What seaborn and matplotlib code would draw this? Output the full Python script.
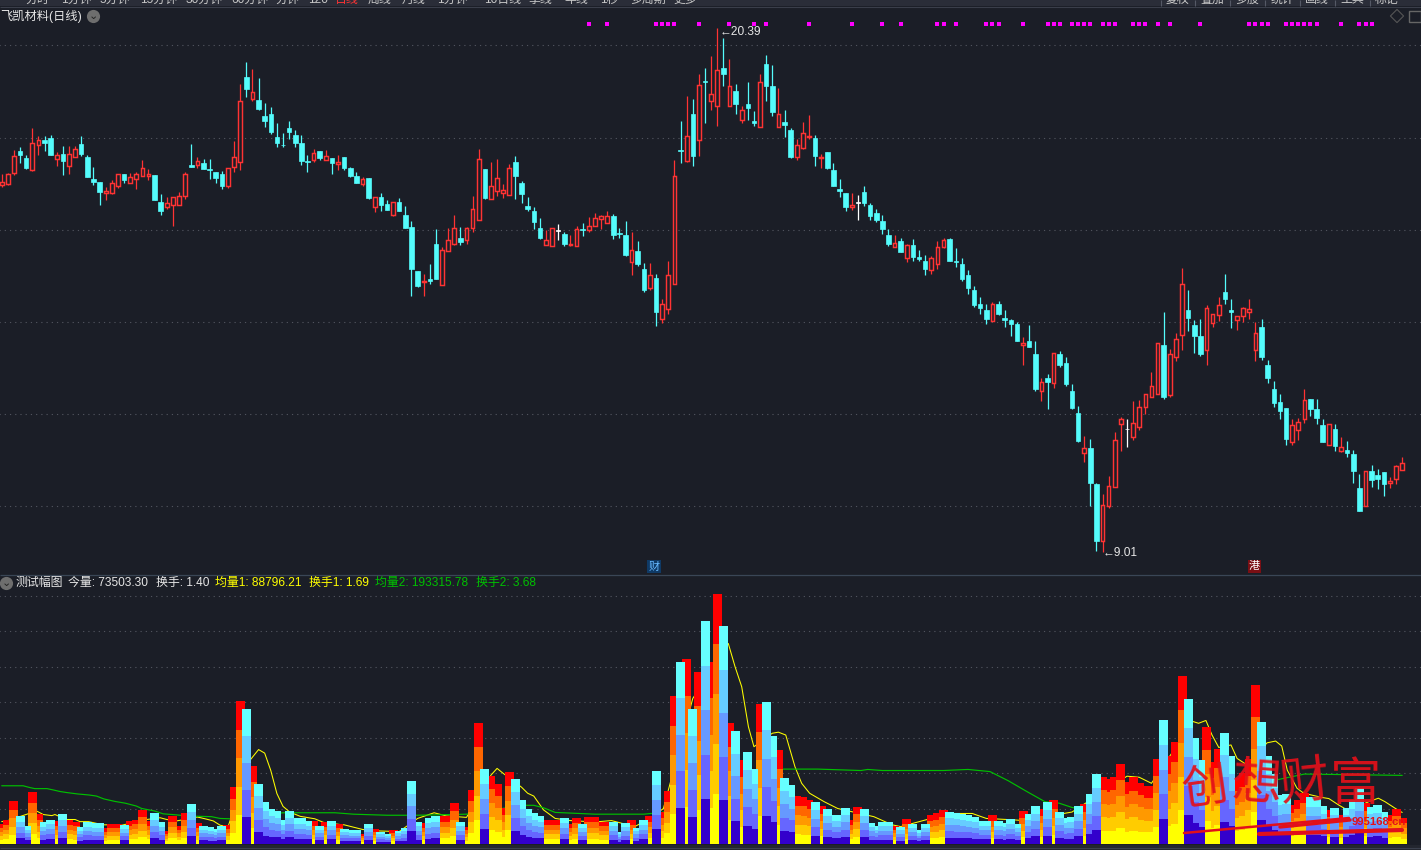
import matplotlib
matplotlib.use("Agg")
import matplotlib.pyplot as plt
from matplotlib.patches import Rectangle
import numpy as np
import seaborn as sns

# daily prices
highs = [
    17.20,17.24,17.73,17.79,17.62,18.20,18.03,18.03,18.05,17.69,
    17.81,17.81,17.82,18.03,17.62,17.36,17.03,16.93,17.07,17.20,
    17.20,17.24,17.25,17.51,17.31,17.18,16.78,16.70,16.71,16.81,
    17.26,17.86,17.57,17.54,17.54,17.26,17.28,17.33,17.92,19.17,
    19.64,19.48,19.30,18.75,18.66,18.31,18.09,18.35,18.17,18.05,
    17.62,17.76,17.70,17.74,17.55,17.62,17.57,17.36,17.25,17.14,
    17.12,16.71,16.79,16.64,16.60,16.68,16.51,16.18,15.10,15.03,
    15.25,16.01,15.62,16.03,16.31,16.05,16.05,16.73,17.76,17.31,
    17.46,17.53,16.99,17.42,17.60,17.05,16.70,16.49,16.25,16.00,
    16.04,16.12,15.96,15.88,16.07,16.14,16.27,16.36,16.31,16.40,
    16.35,16.03,16.18,15.96,15.75,15.27,15.27,15.04,14.50,15.33,
    17.52,18.36,18.90,18.83,19.38,19.51,19.77,20.39,20.16,19.70,
    19.16,18.68,19.20,18.57,19.38,19.79,19.57,19.07,18.60,18.20,
    17.96,18.33,18.49,18.05,17.64,17.68,17.44,17.10,16.79,16.79,
    16.75,16.94,16.57,16.46,16.33,16.01,15.88,15.83,15.70,15.79,
    15.57,15.46,15.42,15.75,15.83,15.83,15.60,15.38,15.12,14.77,
    14.53,14.38,14.42,14.46,14.25,14.07,13.99,13.68,13.92,13.59,
    12.79,12.86,13.33,13.36,13.23,12.66,12.18,11.53,11.46,10.49,
    10.25,10.66,11.60,11.94,11.88,12.29,12.31,12.44,12.90,13.53,
    14.22,13.40,13.75,15.16,14.70,14.03,14.05,14.36,14.16,14.53,
    15.03,14.49,14.12,14.33,14.49,13.99,14.07,13.18,12.72,12.44,
    12.12,11.90,11.92,12.55,12.33,12.33,11.88,11.79,11.77,11.49,
    11.42,11.22,10.70,10.77,10.88,10.81,10.73,10.64,10.90,11.07,
]
lows = [
    16.93,16.98,17.19,17.44,17.31,17.28,17.62,17.71,17.62,17.38,
    17.18,17.22,17.58,17.60,17.15,16.96,16.54,16.64,16.78,16.91,
    17.01,17.02,16.88,17.17,17.07,16.64,16.31,16.44,16.07,16.54,
    16.66,17.36,17.33,17.31,17.11,17.02,16.88,16.90,17.26,17.29,
    18.88,18.79,18.60,18.22,18.07,17.80,17.80,17.96,17.80,17.40,
    17.25,17.47,17.51,17.51,17.20,17.29,17.29,17.15,17.01,16.94,
    16.66,16.38,16.40,16.42,16.29,16.40,16.03,14.57,14.75,14.57,
    14.81,14.92,14.79,15.54,15.66,15.66,15.70,15.96,16.20,16.66,
    16.66,16.73,16.68,16.75,16.66,16.57,16.40,16.01,15.79,15.66,
    15.64,15.77,15.64,15.64,15.64,15.86,15.94,16.07,16.01,16.14,
    15.79,15.81,15.42,15.01,15.22,14.64,14.68,13.90,13.97,14.18,
    14.81,17.44,17.46,17.38,17.60,18.31,18.60,18.25,19.12,18.69,
    18.51,18.31,18.38,18.25,18.23,18.79,18.46,18.23,18.01,17.55,
    17.51,17.75,17.96,17.38,17.33,17.31,16.94,16.70,16.40,16.42,
    16.20,16.51,16.20,16.16,15.90,15.64,15.62,15.51,15.29,15.33,
    15.31,15.01,15.03,15.14,15.60,15.33,15.18,14.88,14.60,14.33,
    14.16,13.96,14.02,14.14,13.88,13.70,13.59,13.07,13.46,12.49,
    12.29,12.10,12.57,13.01,12.60,12.10,11.40,10.96,10.01,9.03,
    9.01,9.96,10.42,11.20,11.29,11.44,11.66,11.99,12.36,12.43,
    12.33,12.36,13.14,13.38,13.81,13.33,13.25,13.07,13.88,14.01,
    14.38,13.86,13.83,13.99,14.05,13.14,13.18,12.68,12.16,11.88,
    11.33,11.33,11.44,11.81,11.96,11.79,11.38,11.33,11.20,11.18,
    11.07,10.49,9.90,9.99,10.42,10.38,10.22,10.40,10.47,10.78,
]
opens = [
    16.98,17.00,17.24,17.70,17.55,17.29,17.83,17.94,17.99,17.54,
    17.64,17.38,17.58,17.86,17.57,17.10,17.03,16.79,16.80,16.95,
    17.20,17.02,17.10,17.17,17.17,17.18,16.61,16.49,16.54,16.54,
    16.73,17.40,17.40,17.44,17.31,17.26,17.20,16.95,17.36,17.47,
    19.31,18.84,18.81,18.46,18.51,18.01,17.85,18.20,18.05,17.88,
    17.49,17.51,17.70,17.51,17.55,17.42,17.57,17.33,17.16,16.99,
    17.12,16.49,16.70,16.55,16.31,16.60,16.33,16.05,15.10,14.86,
    14.94,15.70,14.79,15.54,15.68,15.83,15.77,16.04,16.20,17.31,
    16.66,16.83,16.79,16.75,17.46,17.01,16.51,16.40,16.03,15.66,
    15.64,15.98,15.90,15.66,15.64,16.01,15.99,16.07,16.24,16.14,
    16.29,15.92,15.88,15.29,15.53,15.14,14.73,14.96,14.06,14.28,
    14.83,17.74,17.49,18.51,17.95,19.22,18.80,18.69,19.51,18.69,
    19.01,18.38,18.72,18.36,18.23,19.60,19.12,18.23,18.33,18.16,
    17.57,17.77,18.01,17.99,17.56,17.68,17.29,16.88,16.79,16.49,
    16.59,16.81,16.53,16.36,16.18,15.88,15.62,15.75,15.39,15.66,
    15.40,15.31,15.12,15.25,15.62,15.79,15.33,15.25,15.01,14.70,
    14.38,14.25,14.02,14.38,14.09,14.03,13.96,13.49,13.59,13.31,
    12.49,12.79,12.68,13.29,13.10,12.49,12.01,11.16,11.25,10.47,
    9.25,10.01,10.42,11.77,11.67,11.49,11.71,12.16,12.36,12.43,
    13.49,12.40,13.23,13.71,14.25,13.92,13.70,13.39,13.97,14.15,
    14.64,14.25,14.04,14.12,14.22,13.39,13.88,13.07,12.55,12.25,
    12.12,11.40,11.66,11.88,12.33,12.10,11.75,11.33,11.68,11.20,
    11.22,11.14,10.40,9.99,10.77,10.68,10.73,10.51,10.58,10.78,
]
closes = [
    17.04,17.20,17.61,17.62,17.33,17.88,17.94,17.88,17.62,17.63,
    17.49,17.65,17.76,17.65,17.15,17.03,16.82,16.83,17.02,17.20,
    17.07,17.15,17.21,17.33,17.20,16.64,16.40,16.58,16.70,16.74,
    17.20,17.36,17.50,17.31,17.29,17.12,16.94,17.33,17.57,18.80,
    19.05,18.98,18.63,18.36,18.13,17.88,17.83,18.13,17.88,17.49,
    17.46,17.67,17.55,17.59,17.44,17.48,17.33,17.17,17.01,17.10,
    16.68,16.70,16.53,16.42,16.60,16.40,16.03,15.14,14.77,14.88,
    14.88,14.94,15.55,15.77,16.04,15.73,16.04,16.46,17.54,16.68,
    16.94,17.12,16.87,17.33,17.16,16.77,16.44,16.16,15.83,15.78,
    16.04,15.98,15.68,15.68,16.01,15.99,16.09,16.25,16.29,16.29,
    15.88,15.90,15.44,15.57,15.25,14.70,15.01,14.22,14.39,15.02,
    17.17,17.71,18.04,17.60,19.15,19.20,18.94,19.46,19.38,19.11,
    18.72,18.59,18.64,18.31,19.20,19.12,18.55,18.52,18.27,17.57,
    17.85,18.09,18.04,17.60,17.57,17.33,16.94,16.83,16.49,16.54,
    16.59,16.57,16.29,16.22,16.01,15.68,15.72,15.51,15.66,15.40,
    15.36,15.14,15.38,15.63,15.77,15.33,15.29,14.94,14.73,14.36,
    14.31,14.05,14.39,14.18,14.03,13.96,13.59,13.53,13.46,12.55,
    12.70,12.70,13.33,13.07,12.64,12.12,11.42,11.25,10.51,9.25,
    10.03,10.44,11.44,11.88,11.67,11.81,12.16,12.44,12.60,13.53,
    12.36,13.31,13.62,14.83,14.09,13.70,13.29,14.31,14.16,14.36,
    14.49,14.22,14.12,14.31,14.27,13.75,13.23,12.79,12.23,12.07,
    11.46,11.75,11.83,12.31,12.10,11.92,11.40,11.79,11.31,11.29,
    11.16,10.75,9.90,10.77,10.57,10.59,10.47,10.55,10.87,10.94,
]
# volume in thousands
volumes = [
    55,67,120,78,50,146,84,61,69,64,
    84,67,62,47,61,58,58,44,55,55,
    53,64,69,95,64,86,61,36,78,50,
    86,112,58,50,47,42,50,53,160,402,
    379,219,168,117,100,92,67,92,72,72,
    64,64,50,61,64,55,41,39,39,28,
    56,41,34,28,39,37,45,177,62,58,
    73,79,79,79,115,62,49,152,341,211,
    192,169,101,203,183,124,99,86,79,68,
    68,68,73,56,73,56,76,76,62,62,
    62,35,59,68,45,68,79,206,91,149,
    417,513,521,380,485,628,514,704,614,341,
    318,237,259,211,394,400,305,265,186,166,
    135,133,124,118,107,99,82,82,101,68,
    104,99,59,51,62,62,51,48,70,56,
    39,56,82,86,96,90,87,85,82,76,
    65,65,82,65,59,70,56,93,85,107,
    99,118,124,90,73,76,107,113,141,197,
    189,183,189,225,175,188,172,163,163,239,
    349,248,287,473,408,299,237,330,232,268,
    313,248,185,199,240,448,344,248,197,138,
    141,110,124,143,132,132,107,96,101,82,
    101,124,157,115,104,110,90,82,99,73.5,
]
# the two average lines, read at the days where they can be seen
ma1_days = [0,1,5.7,6.8,8.2,8.7,10.6,12,12.8,14.2,16.6,17.7,19.4,23.7,25.9,27,28.6,32,33.5,34.6,35.7,37,
            40.6,42,43,44,45,46,47.1,48.8,51.2,52.6,55.3,56,59,61.2,65,68,70.7,72.7,76,80,81,82,85,86,87,
            88.6,90.5,93,97,99.7,103.5,106,108.2,113,118.8,119.9,121,122.1,123,126,127,128.2,129.7,130.8,
            132.1,134.5,136.7,139,142.6,145.6,147,155,158.7,161,165.5,167,175,184,186,188,194.8,195.7,196.9,
            197.9,199,201,202,203.6,206.9,208.3,209.3,210.2,211.8,212.9,215.9,217,218.6,220.2,223.5,225.1,
            226.2,227.9,229]
ma1_vals = [63,66,93,83,80,83,69,69,63,63,54,54,52,69,74,69,65,76,70,65,53,48,
            236,266,256,207,142,106,90,78,71,61,55,54,41,37,35,72,88,79,75,194,213,199,160,143,135,
            96,72,66,62,66,49,72,100,410,565,500,443,330,274,312,315,307,218,171,
            143,119,100,91,77,54,49,86,86,72,68,66,90,191,188,171,345,340,348,
            307,272,279,241,223,285,290,276,208,157,143,131,128,110,94,119,129,
            119,100,88.8]
ma2_days = [0,3.5,4.6,5.4,7.4,8.5,9.5,10.6,12.4,14.3,15.5,16.7,18.5,20.2,22,22.9,25,26.4,28.6,30.2,34.3,35.7,37.3,
            46,48,54.5,57.5,63,68,76,85,87,88.6,90.5,97,105,108,125,127.5,133.4,140.5,141.6,144,154,158,161.6,
            164.6,167.7,170.6,172.9,175,177.7,203,213,229]
ma2_vals = [164,164,159,156,156,152,148,145,141,138,135,127,120,115,107,100,93,85,82,79,77,72,71,
            88,88,88,84,81,81,84,109,109,102,89,84,84,89,211,211,211,207,210,207,207,210,204,
            178,147,119,115,103,94,161,197,193.3]
signal_days = [96,99,107,108,109,110,114,119,123,125,132,139,144,147,153,154,156,161,162,163,167,171,172,173,175,
               176,177,178,180,181,182,185,186,187,189,191,196,204,205,206,207,210,211,212,213,214,215,219,222,
               223,224]
price_grid = [10, 12, 14, 16, 18, 20]
volume_grid = [100, 200, 300, 400, 500, 600, 700]
warm_layers = ["#FF0000", "#FF6600", "#FF9900", "#FFCC00", "#FFFF00"]
cool_layers = ["#66FFFF", "#66CCFF", "#6699FF", "#6666FF", "#3300CC"]
layer_shares = [1.0, 0.8, 0.6, 0.4, 0.2]

BG = "#1B1E27"
RED = "#FF3333"
CYAN = "#54FCFC"
GRID = "#50535D"
DOTS = (0, (1.1, 3.6))
W, H = 1421, 850

sns.set_theme(style="dark", rc={"axes.facecolor": BG, "figure.facecolor": BG})
plt.rcParams["font.family"] = ["Liberation Sans", "Noto Sans CJK SC", "DejaVu Sans"]

days = np.arange(len(closes))
o, c, hi, lo = map(np.array, (opens, closes, highs, lows))
vol = np.array(volumes, dtype=float)
up = c >= o

fig = plt.figure(figsize=(W / 100, H / 100), dpi=100)


def pane(top, bottom):
    ax = fig.add_axes([0, 1 - bottom / H, 1, (bottom - top) / H])
    ax.set_facecolor(BG)
    for s in ax.spines.values():
        s.set_visible(False)
    return ax


# price pane
ax1 = pane(8, 574)
ax1.hlines(price_grid, -1, 233, colors=GRID, linestyles=DOTS, linewidth=0.8, zorder=0.4, snap=True)
for mask, col in [(c < o, CYAN), (c > o, RED), (c == o, "white")]:
    ax1.vlines(days[mask], lo[mask], hi[mask], colors=col, linewidth=0.9, zorder=2, snap=True)
fall = c < o
ax1.bar(days[fall], (o - c)[fall], bottom=c[fall], width=0.74, color=CYAN, edgecolor=CYAN, linewidth=0.5, zorder=3)
rise = c > o
ax1.bar(days[rise], (c - o)[rise], bottom=o[rise], width=0.6, facecolor=BG, edgecolor=RED, linewidth=1.05, zorder=3)
flat = c == o
ax1.bar(days[flat], np.full(flat.sum(), 0.01), bottom=o[flat], width=0.7, color="white", edgecolor="white",
        linewidth=0.5, zorder=3)
sns.scatterplot(x=signal_days, y=[20.46] * len(signal_days), color="#FF00FF", marker="s", s=9, linewidth=0, ax=ax1)
ax1.set_xlim(-0.278, 232.07)
ax1.set_ylim(10 + (506 - 574) / 46.05, 10 + (506 - 8) / 46.05)
ax1.set(xticks=[], yticks=[], xlabel="", ylabel="")

# volume pane
ax2 = pane(575, 844)
ax2.hlines(volume_grid, -1, 233, colors=GRID, linestyles=DOTS, linewidth=0.8, zorder=0.4, snap=True)
sns.lineplot(x=ma1_days, y=ma1_vals, color="#FFFF00", linewidth=0.75, ax=ax2, zorder=0.6)
sns.lineplot(x=ma2_days, y=ma2_vals, color="#00C000", linewidth=0.85, ax=ax2, zorder=0.6)
for mask, palette in [(up, warm_layers), (~up, cool_layers)]:
    for share, col in zip(layer_shares, palette):
        sns.barplot(x=days, y=vol * share * mask, color=col, saturation=1, width=1.47, native_scale=True,
                    linewidth=0, errorbar=None, ax=ax2)
ax2.set_xlim(-0.278, 232.07)
ax2.set_ylim(0, 269 * 2.817)
ax2.set(xticks=[], yticks=[], xlabel="", ylabel="")

# all the text and window furniture, in pixels
top = fig.add_axes([0, 0, 1, 1], zorder=10)
top.set_xlim(0, W)
top.set_ylim(H, 0)
top.axis("off")
top.patch.set_alpha(0)

top.add_patch(Rectangle((0, 0), W, 6, color="#2A2D38", lw=0))
top.hlines(6.5, 0, W, colors="#3A3E4A", linewidth=0.8)
top.hlines(574.5, 0, W, colors="#3A4656", linewidth=0.9)
top.add_patch(Rectangle((0, 845), W, 5, color="#23262F", lw=0))
top.hlines(847.5, 0, W, colors="#3B404D", linewidth=0.8)

menu = [("分时", 26), ("1分钟", 61), ("5分钟", 100), ("15分钟", 140), ("30分钟", 186), ("60分钟", 231), ("分钟", 276),
        ("120", 308), ("日线", 335), ("周线", 368), ("月线", 402), ("1分钟", 437), ("10日线", 484), ("季线", 529),
        ("年线", 564), ("1秒", 600), ("多周期", 630), ("更多", 673)]
for label, x in menu:
    top.text(x, 5.5, label, color="#FF3333" if label == "日线" else "#C8C8C8", fontsize=8.6, va="bottom", ha="left")
buttons = [("复权", 1161), ("叠加", 1195), ("多股", 1230), ("统计", 1265), ("画线", 1300), ("工具", 1335), ("标记", 1370)]
for label, x in buttons:
    top.vlines(x, 0, 6, colors="#555966", linewidth=0.8)
    top.text(x + 17, 5.5, label, color="#C8C8C8", fontsize=8.6, va="bottom", ha="center")

top.text(0, 16, "飞凯材料(日线)", color="#E6E6E6", fontsize=8.8, va="center", ha="left")
top.scatter([93, 6], [16, 583], s=90, color="#6E6E6E", lw=0)
top.text(93, 15.5, "⌄", color="#222222", fontsize=8, ha="center", va="center", family="DejaVu Sans")
top.text(6, 582.5, "⌄", color="#222222", fontsize=8, ha="center", va="center", family="DejaVu Sans")
top.scatter([1397], [16], s=45, marker="D", facecolor="none", edgecolor="#555555", lw=0.8)
top.add_patch(Rectangle((1409, 11), 12, 11, fill=False, edgecolor="#666666", lw=1))

top.text(720, 32, "←20.39", color="#E6E6E6", fontsize=8.6, va="center", ha="left")
top.text(1103, 553, "←9.01", color="#E6E6E6", fontsize=8.6, va="center", ha="left")

top.text(654, 566.5, "财", color="#66B8FF", fontsize=8, va="center", ha="center",
         bbox=dict(boxstyle="square,pad=0.12", fc="#0F3A66", ec="none"))
top.text(1254.5, 566.5, "港", color="white", fontsize=8, va="center", ha="center",
         bbox=dict(boxstyle="square,pad=0.12", fc="#7A0F14", ec="none"))

header = [("测试幅图", 16, "#E6E6E6"), ("今量: 73503.30", 68, "#E6E6E6"), ("换手: 1.40", 156, "#E6E6E6"),
          ("均量1: 88796.21", 215, "#FFFF00"), ("换手1: 1.69", 309, "#FFFF00"),
          ("均量2: 193315.78", 375, "#00C000"), ("换手2: 3.68", 476, "#00C000")]
for label, x, col in header:
    top.text(x, 583, label, color=col, fontsize=8.6, va="center", ha="left")

# site watermark over the lower right
mark_red = "#E2101A"
for ch, x, y, rot, size in [("创", 1205, 790, 8, 33), ("想", 1256, 786, -4, 36), ("财", 1304, 784, 6, 36), ("富", 1356, 786, 0, 37)]:
    top.text(x, y, ch, color=mark_red, fontsize=size, fontweight="medium", rotation=rot, ha="center", va="center", alpha=0.93)
top.plot([1184, 1349], [833, 818], color=mark_red, lw=1.8, solid_capstyle="round")
top.plot([1259, 1402], [834, 830], color=mark_red, lw=3.0, solid_capstyle="round")
top.plot([1280, 1350], [827, 820], color=mark_red, lw=2.4, solid_capstyle="round")
top.text(1352, 822, "995168.cn", color=mark_red, fontsize=8.2, fontweight="bold", va="center", ha="left")

fig.savefig("out.png", dpi=100, facecolor=BG)
